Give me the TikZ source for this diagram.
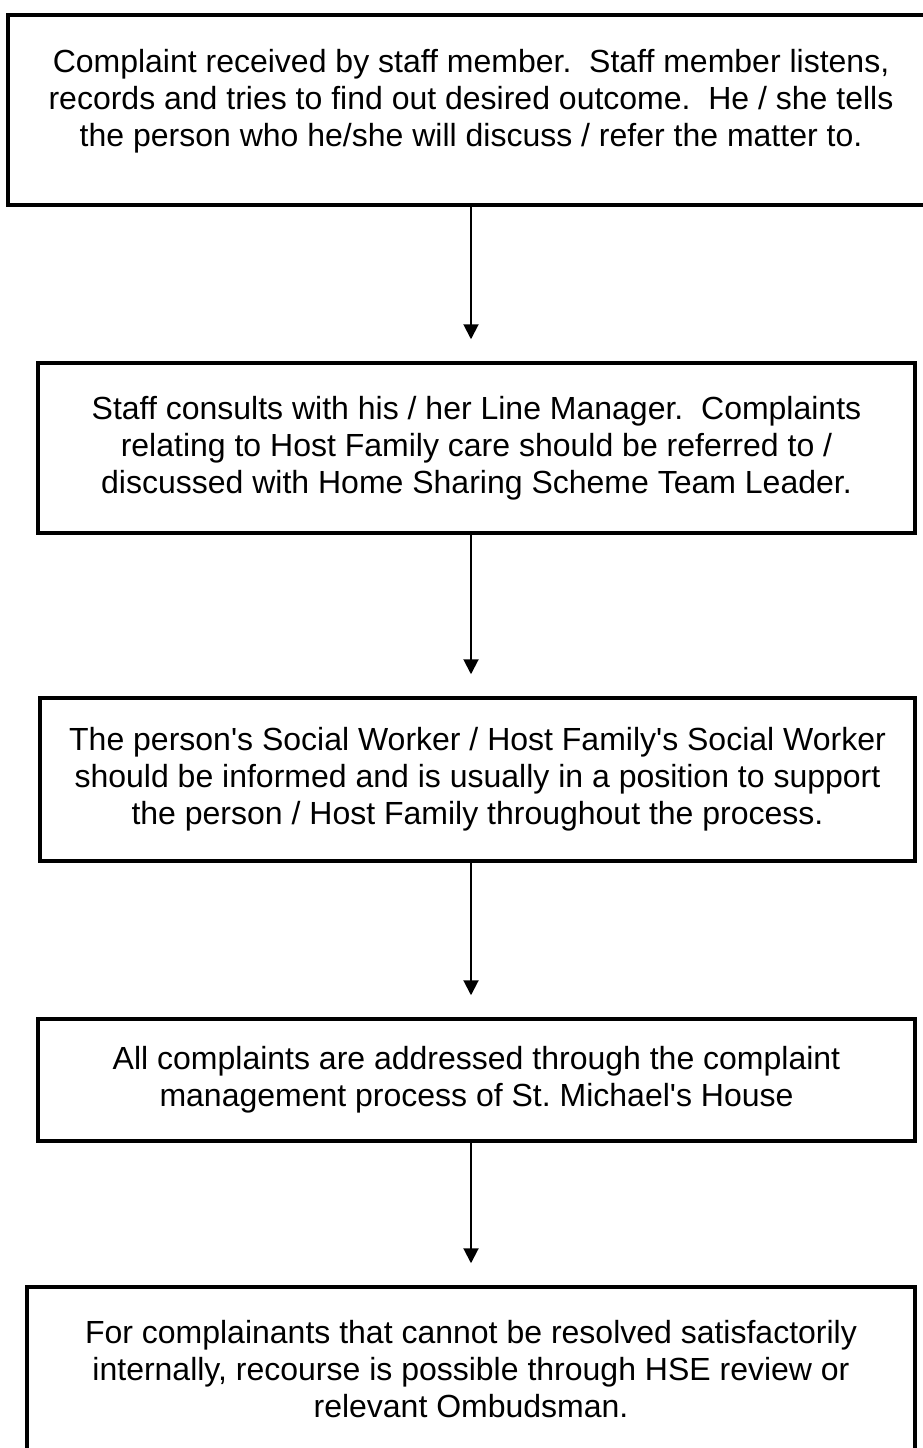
\documentclass[tikz,border=0pt]{standalone}
\usepackage{fontspec}
\setmainfont{Liberation Sans}
\usepackage{tikz}
\usetikzlibrary{arrows.meta,positioning,calc}

\tikzset{
	stepfont/.style={font=\fontsize{32}{37}\selectfont\frenchspacing},
	stepbox/.style={draw,line width=3.5pt,align=center,inner sep=0pt,stepfont},
	steptext/.style={align=center,inner sep=0pt,stepfont},
	flow/.style={->,line width=2pt,shorten >=22pt},
}
\newcommand{\apos}{\textquotesingle}

\begin{document}
\begin{tikzpicture}[x=1pt,y=-1pt,>={Triangle[length=15pt,width=15pt]}]
	\useasboundingbox (0,0) rectangle (922,1448);

	\node[stepbox,minimum width=940pt,minimum height=190pt] (received) at (478  ,110   ) {};
	\node[steptext] (receivedtxt) at (471,101) {Complaint received by staff member.~ Staff member listens,\\records and tries to find out desired outcome.~ He / she tells\\the person who he/she will discuss / refer the matter to.};
	\node[stepbox,minimum width=877pt,minimum height=170pt] (manager)  at (476.5,448   ) {Staff consults with his / her Line Manager.~ Complaints\\relating to Host Family care should be referred to /\\discussed with Home Sharing Scheme Team Leader.};
	\node[stepbox,minimum width=875pt,minimum height=163pt] (social)   at (477.5,779.5 ) {The person\apos s Social Worker / Host Family\apos s Social Worker\\should be informed and is usually in a position to support\\the person / Host Family throughout the process.};
	\node[stepbox,minimum width=877pt,minimum height=122pt] (process)  at (476.5,1080  ) {All complaints are addressed through the complaint\\management process of St. Michael\apos s House};
	\node[stepbox,minimum width=888pt,minimum height=165pt] (review)   at (471  ,1369.5) {For complainants that cannot be resolved satisfactorily\\internally, recourse is possible through HSE review or\\relevant Ombudsman.};

	\draw[flow] (receivedtxt.south |- received.south) -- (receivedtxt.south |- manager.north);
	\draw[flow] (manager.south -| receivedtxt.south) -- (social.north  -| receivedtxt.south);
	\draw[flow] (social.south  -| receivedtxt.south) -- (process.north -| receivedtxt.south);
	\draw[flow] (process.south -| receivedtxt.south) -- (review.north  -| receivedtxt.south);
\end{tikzpicture}
\end{document}
